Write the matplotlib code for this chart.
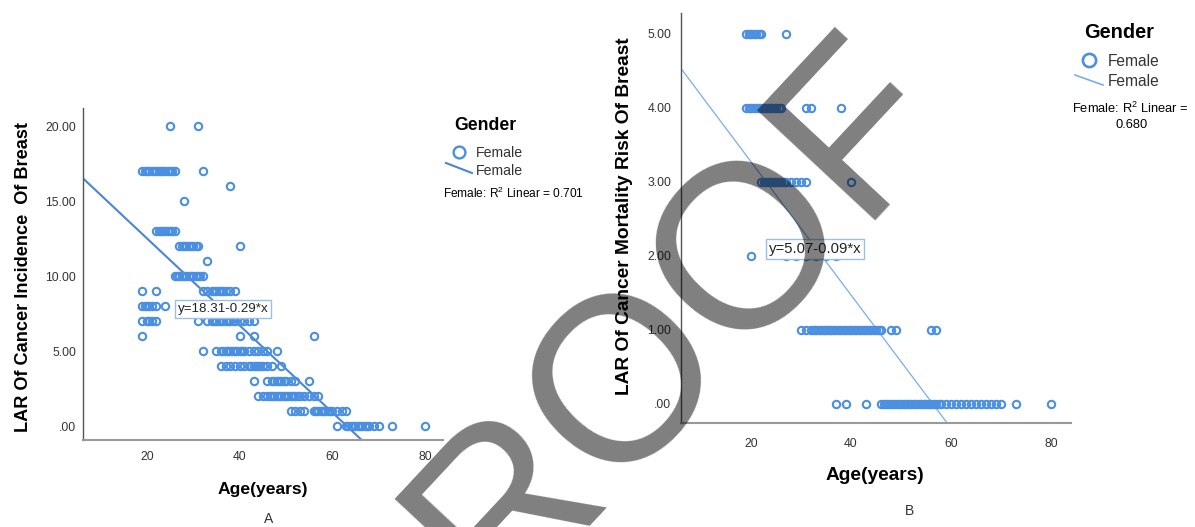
import matplotlib
matplotlib.use('Agg')
import matplotlib.pyplot as plt
from matplotlib.lines import Line2D
import numpy as np

plt.rcParams['font.family'] = ['Liberation Sans', 'DejaVu Sans']
plt.rcParams['mathtext.fontset'] = 'custom'
plt.rcParams['mathtext.rm'] = 'Liberation Sans'

W, H = 1195, 527

# LAR of cancer incidence of breast: score level -> ages of women at that level
inc_levels = [20, 17, 16, 15, 13, 12, 11, 10, 9, 8, 7, 6, 5, 4, 3, 2, 1, 0]
inc_ages = [
    [25, 31],
    [19, 19.5, 20, 20.5, 21, 21.5, 22, 22.5, 23, 23.5, 24, 24.5, 25, 25.5, 26, 32],
    [38],
    [28],
    [22, 22.5, 23, 23.5, 24, 24.5, 25, 25.5, 26],
    [27, 27.5, 28, 28.5, 29, 29.5, 30, 30.5, 31, 40],
    [33],
    [26, 26.5, 27, 27.5, 28, 28.5, 29, 29.5, 30, 30.5, 31, 31.5, 32],
    [19, 22, 32, 33, 34, 34.5, 35, 35.5, 36, 36.5, 37, 38, 39],
    [19, 19.5, 20, 20.5, 21, 22, 24],
    [19, 20, 20.5, 21, 22, 31, 33, 34, 34.5, 35, 35.5, 36, 36.5, 37, 37.5, 38, 38.5,
     39, 40, 41, 42, 43],
    [19, 40, 43, 56],
    [32, 35, 36, 36.5, 37, 37.5, 38, 38.5, 39, 39.5, 40, 40.5, 41, 42, 43, 44, 45, 46, 48],
    [36, 37, 38, 39, 40, 41, 42, 42.5, 43, 43.5, 44, 44.5, 45, 46, 47, 49],
    [43, 46, 47, 47.5, 48, 48.5, 49, 49.5, 50, 51, 52, 55],
    [44, 45, 46, 46.5, 47, 47.5, 48, 48.5, 49, 49.5, 50, 50.5, 51, 51.5, 52, 52.5,
     53, 54, 55, 56, 57],
    [51, 52, 53, 54, 56, 56.5, 57, 57.5, 58, 58.5, 59, 59.5, 60, 61, 62, 63],
    [61, 63, 63.5, 64, 64.5, 65, 65.5, 66, 66.5, 67, 67.5, 68, 69, 70, 73, 80],
]
inc_fit = (18.31, -0.29)
inc_r2 = 0.701

# LAR of cancer mortality risk of breast
mort_levels = [5, 4, 3, 2, 1, 0]
mort_ages = [
    [19, 19.5, 20, 20.5, 21, 21.5, 22, 27],
    [19, 19.5, 20, 20.5, 21, 21.5, 22, 22.5, 23, 23.5, 24, 24.5, 25, 25.5, 26,
     31, 32, 38],
    [22, 22.5, 23, 23.5, 24, 24.5, 25, 25.5, 26, 26.5, 27, 28, 29, 30, 31, 40],
    [20, 27, 29, 31, 33, 35, 37],
    [30, 31, 32, 32.5, 33, 33.5, 34, 34.5, 35, 35.5, 36, 36.5, 37, 37.5, 38, 38.5,
     39, 39.5, 40, 40.5, 41, 41.5, 42, 42.5, 43, 43.5, 44, 44.5, 45, 45.5, 46,
     48, 49, 56, 57],
    [37, 39, 43, 46, 46.5, 47, 47.5, 48, 48.5, 49, 49.5, 50, 50.5, 51, 51.5, 52,
     52.5, 53, 53.5, 54, 54.5, 55, 55.5, 56, 56.5, 57, 57.5, 58, 59, 60, 61, 62,
     63, 64, 65, 66, 67, 68, 69, 70, 73, 80],
]
mort_fit = (5.07, -0.09)
mort_r2 = 0.680

inc_yticks = [0, 5, 10, 15, 20]
mort_yticks = [0, 1, 2, 3, 4, 5]
age_ticks = [20, 40, 60, 80]

BLUE = '#4a8fe2'


def fx(px):
    return px / W


def fy(py):
    return 1 - py / H


def fmt(v):
    return '.00' if v == 0 else '%.2f' % v


def draw_panel(ax, levels, ages, fit, xlim, ylim, yticks, line_w, line_c,
               eq_xy, eq_size, label_size, ylabel, xpad, ypad):
    xs = np.concatenate([np.array(a, dtype=float) for a in ages])
    ys = np.concatenate([np.full(len(a), lv, dtype=float) for a, lv in zip(ages, levels)])
    ax.plot(xs, ys, linestyle='none', marker='o', markersize=5.3,
            markerfacecolor='none', markeredgecolor=BLUE, markeredgewidth=1.5, zorder=3)
    a, b = fit
    lx = np.array(xlim)
    ax.plot(lx, a + b * lx, color=line_c, linewidth=line_w, zorder=2)
    ax.text(eq_xy[0], eq_xy[1], 'y=%.2f%+.2f*x' % (a, b), fontsize=eq_size,
            ha='center', va='center', color='#222222', zorder=5,
            bbox=dict(boxstyle='square,pad=0.2', fc='white', ec='#9cbfea', lw=1))
    ax.set_xlim(*xlim)
    ax.set_ylim(*ylim)
    ax.set_xticks(age_ticks)
    ax.set_yticks(yticks)
    ax.set_yticklabels([fmt(v) for v in yticks])
    ax.tick_params(length=0, labelsize=8.8, labelcolor='#333333')
    ax.tick_params(axis='x', pad=xpad)
    ax.tick_params(axis='y', pad=ypad)
    for s in ['top', 'right']:
        ax.spines[s].set_visible(False)
    ax.spines['left'].set_color('#555555')
    ax.spines['left'].set_linewidth(1.0)
    ax.spines['bottom'].set_color('#999999')
    ax.spines['bottom'].set_linewidth(1.5)
    ax.set_xlabel('Age(years)', fontsize=label_size, fontweight='bold')
    ax.set_ylabel(ylabel, fontsize=label_size, fontweight='bold')


fig = plt.figure(figsize=(W / 100, H / 100), dpi=100)
ax1 = fig.add_axes([fx(83), fy(440), fx(443) - fx(83), fy(108) - fy(440)])
ax2 = fig.add_axes([fx(681), fy(423), fx(1071) - fx(681), fy(13) - fy(423)])

draw_panel(ax1, inc_levels, inc_ages, inc_fit, (6.2, 83.9), (-0.93, 21.2), inc_yticks,
           1.5, '#4a85d6', (36.4, 7.8), 9.6, 12.6,
           'LAR Of Cancer Incidence  Of Breast', 8, 5)
draw_panel(ax2, mort_levels, mort_ages, mort_fit, (6.0, 84.0), (-0.26, 5.28), mort_yticks,
           0.9, '#78aeea', (32.8, 2.09), 10.7, 13.8,
           'LAR Of Cancer Mortality Risk Of Breast', 11, 7)
ax1.yaxis.label.set_fontsize(13.1)

ax1.yaxis.set_label_coords(-0.141, 0.49)
ax1.xaxis.set_label_coords(0.5, -0.127)
ax2.yaxis.set_label_coords(-0.123, 0.505)
ax2.xaxis.set_label_coords(0.497, -0.108)

fig.text(fx(269), fy(519), 'A', fontsize=10, ha='center', va='center', color='#333333')
fig.text(fx(910), fy(511), 'B', fontsize=10, ha='center', va='center', color='#333333')

# legend of panel A
fig.text(fx(485), fy(126), 'Gender', fontsize=12.7, fontweight='bold', ha='center', va='center')
fig.add_artist(Line2D([fx(459)], [fy(152)], marker='o', markersize=8.5, markerfacecolor='none',
                      markeredgecolor=BLUE, markeredgewidth=1.7, transform=fig.transFigure))
fig.add_artist(Line2D([fx(446), fx(472)], [fy(163), fy(173)], color='#4a85d6', lw=1.5,
                      transform=fig.transFigure))
fig.text(fx(476), fy(153), 'Female', fontsize=10.2, ha='left', va='center', color='#333333')
fig.text(fx(476), fy(171), 'Female', fontsize=10.2, ha='left', va='center', color='#333333')
fig.text(fx(513), fy(193), 'Female: R$^2$ Linear = %.3f' % inc_r2, fontsize=8.6,
         ha='center', va='center')

# legend of panel B
fig.text(fx(1119), fy(33), 'Gender', fontsize=14.4, fontweight='bold', ha='center', va='center')
fig.add_artist(Line2D([fx(1089)], [fy(60)], marker='o', markersize=9.5, markerfacecolor='none',
                      markeredgecolor=BLUE, markeredgewidth=1.9, transform=fig.transFigure))
fig.add_artist(Line2D([fx(1075), fx(1103)], [fy(75), fy(85)], color='#78aeea', lw=1.2,
                      transform=fig.transFigure))
fig.text(fx(1108), fy(62), 'Female', fontsize=11.2, ha='left', va='center', color='#333333')
fig.text(fx(1108), fy(82), 'Female', fontsize=11.2, ha='left', va='center', color='#333333')
fig.text(fx(1130), fy(108), 'Female: R$^2$ Linear =', fontsize=9.3, ha='center', va='center')
fig.text(fx(1132), fy(125), '%.3f' % mort_r2, fontsize=9.3, ha='center', va='center')

# watermark over everything
fig.text(fx(627), fy(377), 'PROOF', fontsize=168, rotation=47, rotation_mode='anchor',
         ha='center', va='center', color='black', alpha=0.5, zorder=100)

fig.savefig('out.png', dpi=100)
